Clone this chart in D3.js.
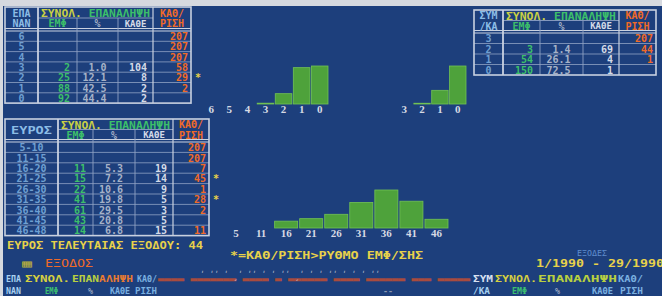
<!DOCTYPE html>
<html><head><meta charset="utf-8">
<script src="https://cdn.jsdelivr.net/npm/d3@7"></script>
<style>body{margin:0;background:#1d3f7c;overflow:hidden}svg{display:block}</style>
</head><body><script>
// ---------- DATA ----------
const repCats   = ["6","5","4","3","2","1","0"];
const repEmf    = [null,null,null,2,25,88,92];
const repPct    = [null,null,null,1.0,12.1,42.5,44.4];
const repEvery  = [null,null,null,104,8,2,2];
const repDelay  = [207,207,207,58,29,2,null];

const sumCats   = ["3","2","1","0"];
const sumEmf    = [null,3,54,150];
const sumPct    = [null,1.4,26.1,72.5];
const sumEvery  = [null,69,4,1];
const sumDelay  = [207,44,1,null];

const rangeCats  = ["5-10","11-15","16-20","21-25","26-30","31-35","36-40","41-45","46-48"];
const rangeTicks = ["5","11","16","21","26","31","36","41","46"];
const rangeEmf   = [null,null,11,15,22,41,61,43,14];
const rangePct   = [null,null,5.3,7.2,10.6,19.8,29.5,20.8,6.8];
const rangeEvery = [null,null,19,14,9,5,3,5,15];
const rangeDelay = [207,207,7,45,1,28,2,null,11];

const lastRange = 44;
const periodText = "1/1990 - 29/1990";

// ---------- SETUP ----------
const W=662,H=296;
const svg=d3.select("body").append("svg").attr("width",W).attr("height",H);
svg.append("rect").attr("width",W).attr("height",H).attr("fill","#d6d9df");
svg.append("rect").attr("x",3).attr("y",6).attr("width",W-3).attr("height",H-6).attr("fill","#1d3f7c");

const MONO="'DejaVu Sans Mono', 'Liberation Mono', monospace";
function dos(g,x,y,str,color,o={}){
  const t=g.append("text").attr("x",x).attr("y",y).attr("fill",color)
    .attr("font-family",MONO).attr("font-weight",o.weight||"bold")
    .attr("font-size",o.size||10).attr("dominant-baseline","central")
    .attr("text-anchor",o.anchor||"start").text(str);
  if(o.len){t.attr("textLength",o.len).attr("lengthAdjust","spacingAndGlyphs");}
  if(o.opacity) t.attr("opacity",o.opacity);
  return t;
}
const fmt1=d3.format(".1f");
const C={line:"#c9d1e0",sep:"#8fa2c4",head0:"#8cbde6",lab:"#6f9fd2",green:"#3cbf6a",
  yg:"#c9d045",grey:"#a6b2c8",white:"#d4dbe8",orange:"#f06a28",yellow:"#e8d24a"};

// ---------- TABLES ----------
function drawTable(o){
  const g=svg.append("g");
  const [c0,c1,c2,c3,c4,c5]=o.cols;
  const n=o.labels.length;
  const bot=o.headBot+n*o.rowH;
  const y=d3.scaleBand().domain(o.labels).range([o.headBot,bot]);
  const mid=(o.top+o.headBot)/2-1;
  g.selectAll("line.rs").data(o.labels.slice(1)).join("line").attr("class","rs")
    .attr("x1",c0).attr("x2",c5).attr("y1",d=>y(d)).attr("y2",d=>y(d))
    .attr("stroke",C.sep).attr("stroke-width",0.8);
  [o.headBot-2.5,o.headBot].forEach(v=>g.append("line").attr("x1",c0).attr("x2",c5)
    .attr("y1",v).attr("y2",v).attr("stroke",C.line).attr("stroke-width",1));
  g.append("line").attr("x1",c1).attr("x2",c4).attr("y1",mid).attr("y2",mid)
    .attr("stroke",C.sep).attr("stroke-width",0.9);
  [c1,c4].forEach(v=>g.append("line").attr("x1",v).attr("x2",v).attr("y1",o.top).attr("y2",bot)
    .attr("stroke",C.line).attr("stroke-width",v===c1?1.8:1.2));
  [c2,c3].forEach(v=>g.append("line").attr("x1",v).attr("x2",v).attr("y1",mid).attr("y2",bot)
    .attr("stroke",C.sep).attr("stroke-width",0.9));
  g.append("rect").attr("x",c0).attr("y",o.top).attr("width",c5-c0).attr("height",bot-o.top)
    .attr("fill","none").attr("stroke",C.line).attr("stroke-width",1.6);
  const l1=(o.top+mid)/2+0.5, l2=(mid+o.headBot-2.5)/2+0.5;
  if(o.head0.length===2){
    dos(g,(c0+c1)/2,l1,o.head0[0],C.head0,{anchor:"middle"});
    dos(g,(c0+c1)/2,l2,o.head0[1],C.head0,{anchor:"middle"});
  } else dos(g,(c0+c1)/2,(o.top+o.headBot)/2,o.head0[0],C.head0,{anchor:"middle",len:(c1-c0)-12});
  const sp=dos(g,(c1+c4)/2,l1,"",C.green,{anchor:"middle",len:(c4-c1)-6});
  sp.append("tspan").attr("fill",C.yg).text("ΣΥΝΟΛ. ");
  sp.append("tspan").attr("fill",C.green).text("ΕΠΑΝΑΛΗΨΗ");
  dos(g,(c1+c2)/2,l2,"ΕΜΦ",C.green,{anchor:"middle"});
  dos(g,(c2+c3)/2,l2,"%",C.grey,{anchor:"middle"});
  dos(g,(c3+c4)/2,l2,"ΚΑΘΕ",C.white,{anchor:"middle",size:9});
  dos(g,(c4+c5)/2,l1,"ΚΑΘ/",C.orange,{anchor:"middle"});
  dos(g,(c4+c5)/2,l2,"ΡΙΣΗ",C.orange,{anchor:"middle"});
  o.labels.forEach((lab,i)=>{
    const cy=y(lab)+y.bandwidth()/2+0.5;
    dos(g,(c0+c1)/2,cy,lab,C.lab,{anchor:"middle"});
    if(o.emf[i]!=null) dos(g,c2-7,cy,String(o.emf[i]),C.green,{anchor:"end"});
    if(o.pct[i]!=null) dos(g,(c2+c3)/2+9,cy,fmt1(o.pct[i]),C.grey,{anchor:"end"});
    if(o.every[i]!=null) dos(g,c4-6,cy,String(o.every[i]),C.white,{anchor:"end"});
    if(o.delay[i]!=null) dos(g,c5-3,cy,String(o.delay[i]),C.orange,{anchor:"end"});
    if(o.delay[i]!=null&&o.every[i]!=null&&o.delay[i]>o.every[i])
      dos(g,c5+4,cy,"*",C.yellow,{});
  });
}
drawTable({cols:[5,38,77,118,153,191],top:7,headBot:31,rowH:10.3,head0:["ΕΠΑ","ΝΑΝ"],
  labels:repCats,emf:repEmf,pct:repPct,every:repEvery,delay:repDelay});
drawTable({cols:[474,503,540,583,619,656],top:10,headBot:33,rowH:10.5,head0:["ΣΥΜ","/ΚΑ"],
  labels:sumCats,emf:sumEmf,pct:sumPct,every:sumEvery,delay:sumDelay});
drawTable({cols:[5,58,93,135,173,209],top:119,headBot:142,rowH:10.4,head0:["ΕΥΡΟΣ"],
  labels:rangeCats,emf:rangeEmf,pct:rangePct,every:rangeEvery,delay:rangeDelay});

// ---------- BAR CHARTS ----------
function drawBars(cats,vals,ticks,x0,x1,base){
  const g=svg.append("g");
  const x=d3.scaleBand().domain(cats).range([x0,x1]).paddingInner(0.08).paddingOuter(0);
  const v=vals.map(d=>d||0);
  const y=d3.scaleLinear().domain([0,d3.max(v)]).range([base,base-38]);
  g.selectAll("rect").data(cats.map((c,i)=>({c,v:v[i]})).filter(d=>d.v>0)).join("rect")
    .attr("x",d=>x(d.c)).attr("width",x.bandwidth())
    .attr("y",d=>y(d.v)).attr("height",d=>base-y(d.v))
    .attr("fill","#4ea23b").attr("stroke","#72c254").attr("stroke-width",0.8);
  const ax=g.append("g").attr("transform",`translate(0,${base})`)
    .call(d3.axisBottom(x).tickSize(0).tickPadding(1).tickFormat((d,i)=>ticks[i]));
  ax.select(".domain").remove();
  ax.selectAll("text").attr("fill","#d6dae4").attr("font-family","'Liberation Serif', serif")
    .attr("font-weight","bold").attr("font-size",11);
}
drawBars(repCats,repEmf,repCats,203,328,104);
drawBars(sumCats,sumEmf,sumCats,396,466,104);
drawBars(rangeCats,rangeEmf,rangeTicks,224.5,448,228);

// ---------- BOTTOM TEXTS ----------
const gt=svg.append("g");
dos(gt,7,245,"ΕΥΡΟΣ ΤΕΛΕΥΤΑΙΑΣ ΕΞΟΔΟΥ: "+lastRange,C.yellow,{len:196});
dos(gt,230,255,"*=ΚΑΘ/ΡΙΣΗ>ΡΥΘΜΟ ΕΜΦ/ΣΗΣ",C.yellow,{len:193});
dos(gt,22,263,"▦",  "#b8b03c",{size:10,len:10});
dos(gt,45,263,"ΕΞΟΔΟΣ",C.orange,{len:48,weight:"normal"});
dos(gt,592,253,"ΕΞΟΔΕΣ","#5f8ccc",{anchor:"middle",len:30,size:8,weight:"normal"});
dos(gt,536,263,periodText,C.yellow,{len:128});

const ghost=[
  ["ΕΠΑ",6,21,279,"#a8d0f0"],["ΣΥΝΟΛ.",25,70,279,"#d6d040"],
  ["ΚΑΘ/",137,157,279,"#7ab0e0"],
  ["ΝΑΝ",6,21,291,"#a8d0f0"],["ΕΜΦ",45,58,291,"#3cc070"],["%",88,93,291,"#9aa8c0"],
  ["ΚΑΘΕ",110,130,291,"#7ab0e0"],["ΡΙΣΗ",135,157,291,"#7ab0e0"],
  ["ΣΥΜ",473,493,279,"#d8e0f0"],["ΣΥΝΟΛ.",495,537,279,"#d6d040"],["ΕΠΑΝΑΛΗΨΗ",538,617,279,"#b8d040"],
  ["ΚΑΘ/",618,643,279,"#7ab0e0"],
  ["/ΚΑ",473,490,291,"#a8d0f0"],["ΕΜΦ",512,527,291,"#3cc070"],["%",555,560,291,"#9aa8c0"],
  ["ΚΑΘΕ",592,613,291,"#7ab0e0"],["ΡΙΣΗ",620,643,291,"#7ab0e0"],["--",383,393,291,"#8a98b0"]
];
ghost.forEach(([s,a,b,yy,c])=>dos(gt,a,yy,s,c,{len:b-a,size:9}));
const ep=dos(gt,72,279,"",C.yg,{len:61,size:9});
ep.append("tspan").attr("fill","#b8d040").text("ΕΠΑΝ");
ep.append("tspan").attr("fill","#e87a30").text("ΑΛΗΨΗ");
dos(gt,158,281,"▀▀▀▀  ▀▀▀▀▀▀▀  ▀▀▀▀ ▀  ▀▀▀▀▀▀ ▀▀▀▀ ▀▀▀▀▀▀  ▀▀▀ ▀▀▀▀▀",
  "#d8502a",{len:312,size:5,opacity:0.75});
dos(gt,200,275,"ʹ ʹʹ ʹ ˏʹ ʹʹ ʹ ʹ ʹʹ ˏʹ ʹ ʹ ʹʹ ʹ ʹ ʹ ʹʹ",
  "#c8ccd8",{len:180,size:8,opacity:0.8});
</script></body></html>
